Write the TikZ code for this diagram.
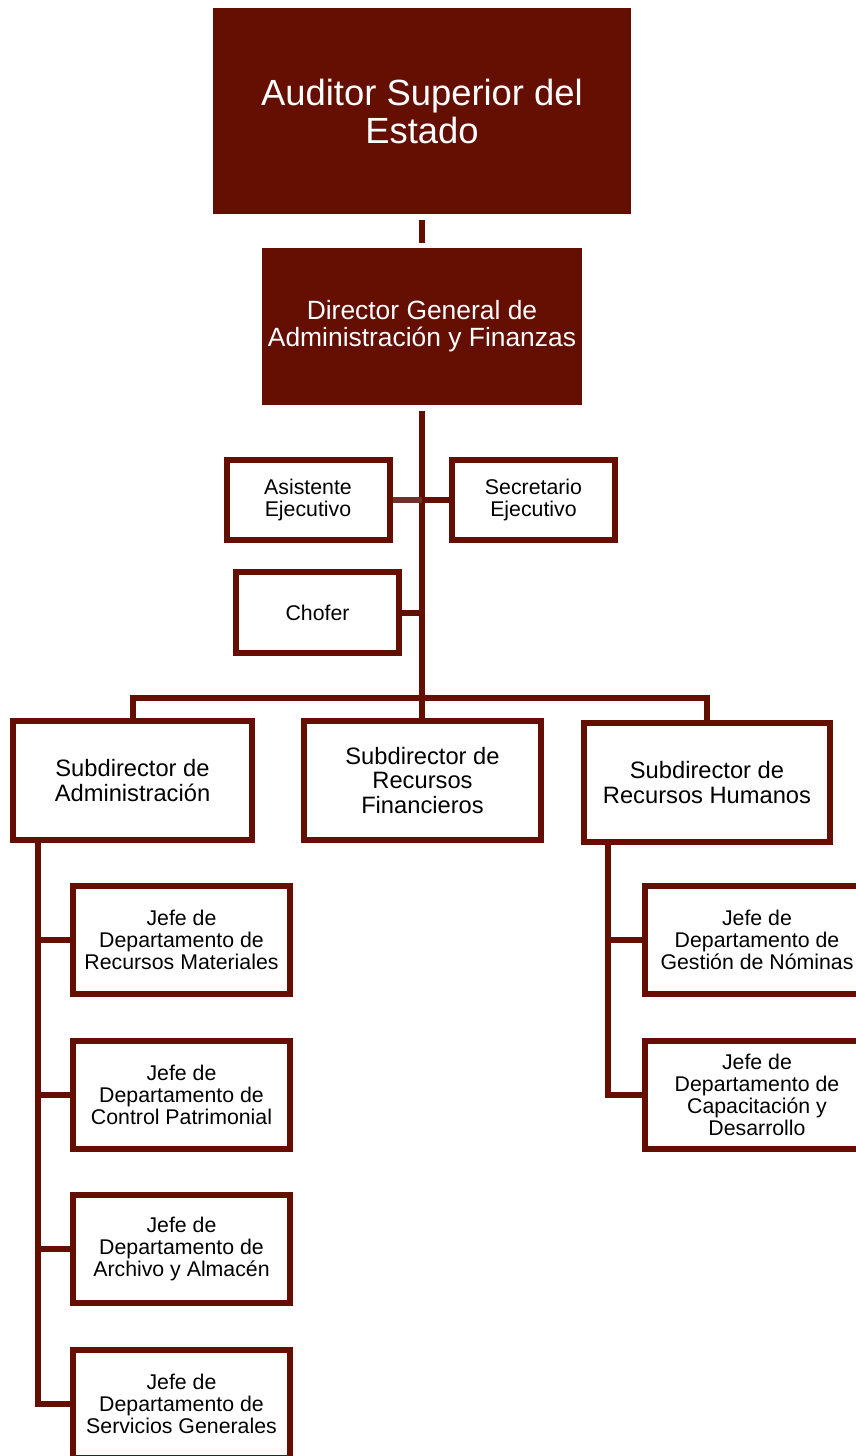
\documentclass[tikz,border=0pt]{standalone}
\usepackage{fontspec}
\setmainfont{Liberation Sans}
\usetikzlibrary{calc}
\definecolor{maroon}{RGB}{101,14,2}
\definecolor{maroonsoft}{RGB}{112,48,44}
\begin{document}
\begin{tikzpicture}[x=1pt,y=-1pt,
  every node/.style={inner sep=0pt, align=center},
  solidbox/.style={fill=maroon, draw=none, text=white},
  framebox/.style={draw=maroon, line width=6pt, fill=white, text=black},
  conn/.style={draw=maroon, line width=6pt},
  sideconn/.style={draw=maroon, line width=5.5pt},
  fhuge/.style={font=\fontsize{36.4}{38}\selectfont},
  flarge/.style={font=\fontsize{26.4}{27}\selectfont},
  fmid/.style={font=\fontsize{23.7}{24.5}\selectfont},
  fsmall/.style={font=\fontsize{21.3}{22}\selectfont},
  jefebox/.style={framebox, fsmall, minimum width=217pt, minimum height=108pt},
  subbox/.style={framebox, fmid, minimum height=119pt},
  aidbox/.style={framebox, fsmall, minimum width=163pt, minimum height=80pt}
]
\useasboundingbox (0,0) rectangle (856,1456);
\clip (0,0) rectangle (856,1456);

% top of the hierarchy
\node[solidbox, fhuge, minimum width=418pt, minimum height=206pt] (aud) at (422,111)
  {Auditor Superior del\\Estado};
\node[solidbox, flarge, minimum width=320pt, minimum height=157pt] (dir) at (422,326.5)
  {Director General de\\Administración y Finanzas};

% staff attached to the director
\node[aidbox] (asis) at (308,500) {Asistente\\Ejecutivo};
\node[aidbox] (secr) at (533.5,500) {Secretario\\Ejecutivo};
\node[aidbox, minimum height=81pt] (chof) at (317.5,612.5) {Chofer};

% deputy directors
\node[subbox, minimum width=239pt] (sadm) at (132.5,780.5) {Subdirector de\\Administración};
\node[subbox, minimum width=237pt] (sfin) at (422.5,780.5) {Subdirector de\\Recursos\\Financieros};
\node[subbox, minimum width=246pt] (srh) at (707,782.5) {Subdirector de\\Recursos Humanos};

% departments under administration
\node[jefebox] (j1) at (181.5,940) {Jefe de\\Departamento de\\Recursos Materiales};
\node[jefebox] (j2) at (181.5,1094.5) {Jefe de\\Departamento de\\Control Patrimonial};
\node[jefebox] (j3) at (181.5,1248.5) {Jefe de\\Departamento de\\Archivo y Almacén};
\node[jefebox] (j4) at (181.5,1403.5) {Jefe de\\Departamento de\\Servicios Generales};

% departments under human resources
\node[jefebox, minimum width=224pt] (r1) at (757,940) {Jefe de\\Departamento de\\Gestión de Nóminas};
\node[jefebox, minimum width=224pt] (r2) at (757,1095) {Jefe de\\Departamento de\\Capacitación y\\Desarrollo};

% spine and bus points
\coordinate (bus) at (422,698);
\coordinate (spineL) at (38,843);
\coordinate (spineR) at (608,845);

% connectors
\draw[conn, shorten <=6pt, shorten >=5pt] (aud) -- (dir);
\draw[conn, shorten <=6pt] (dir.south) -- (dir.south |- sfin.north);
\draw[sideconn, draw=maroonsoft] (asis.east) -- (asis.east -| dir.south);
\draw[sideconn] (asis.east -| dir.south) -- (secr.west);
\draw[conn] (chof.east) -- (chof.east -| dir.south);
\draw[conn] (sadm.north) |- (bus) -| (srh.north);

\draw[conn] (sadm.south -| spineL) |- (j4.west);
\draw[conn] (spineL |- j1.west) -- (j1.west);
\draw[conn] (spineL |- j2.west) -- (j2.west);
\draw[conn] (spineL |- j3.west) -- (j3.west);

\draw[conn] (srh.south -| spineR) |- (r2.west);
\draw[conn] (spineR |- r1.west) -- (r1.west);
\end{tikzpicture}
\end{document}
